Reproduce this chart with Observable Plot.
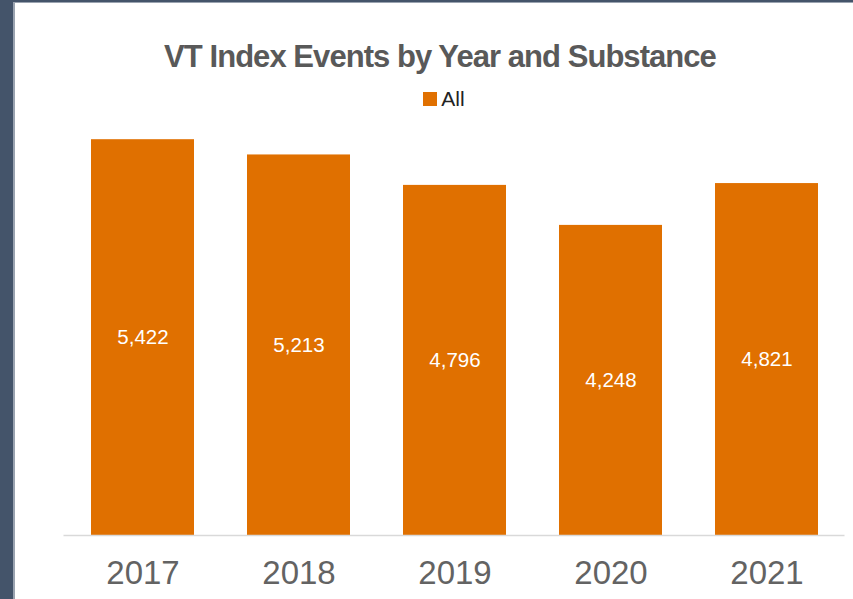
<!DOCTYPE html>
<html>
<head>
<meta charset="utf-8">
<script src="https://cdn.jsdelivr.net/npm/d3@7"></script>
<script src="https://cdn.jsdelivr.net/npm/@observablehq/plot@0.6"></script>
<style>
  html, body { margin: 0; padding: 0; }
  body { width: 853px; height: 599px; background: #44546a; position: relative; overflow: hidden; font-family: "Liberation Sans", Arial, sans-serif; }
  #strip { position: absolute; left: 13px; top: 2px; right: 0; bottom: 0; background: #9aa3b0; }
  #panel { position: absolute; left: 15px; top: 3px; right: 0; bottom: 0; background: #ffffff; }
  #title { position: absolute; left: 0; width: 880px; top: 41px; text-align: center; font-size: 31px; line-height: 31px; font-weight: bold; color: #595959; letter-spacing: -0.95px; white-space: nowrap; }
  #legend { position: absolute; left: 0; width: 888px; top: 88px; display: flex; justify-content: center; align-items: center; font-size: 21px; line-height: 21px; color: #222; }
  #legend .sw { width: 14px; height: 14px; margin-right: 4px; }
  #plot { position: absolute; left: 0; top: 0; }
</style>
</head>
<body>
<div id="strip"></div>
<div id="panel"></div>
<div id="plot"></div>
<div id="title">VT Index Events by Year and Substance</div>
<div id="legend"><div class="sw"></div><span>All</span></div>
<script>
const years = ["2017", "2018", "2019", "2020", "2021"];
const values = [5422, 5213, 4796, 4248, 4821];
const seriesName = "All";
const barColor = "#e07000";

const data = years.map((year, i) => ({year, value: values[i], series: seriesName}));
document.querySelector("#legend .sw").style.background = barColor;

const chart = Plot.plot({
  width: 853,
  height: 599,
  marginLeft: 63.5,
  marginRight: 8.5,
  marginTop: 97,
  marginBottom: 64,
  style: {background: "transparent", fontFamily: "Liberation Sans, Arial, sans-serif"},
  x: {domain: years, paddingInner: 0.34, paddingOuter: 0.17, label: null},
  y: {domain: [0, 6000], axis: null},
  marks: [
    Plot.barY(data, {x: "year", y: "value", fill: barColor}),
    Plot.ruleY([0], {stroke: "#d9d9d9", strokeWidth: 1.5}),
    Plot.text(data, {x: "year", y: d => d.value / 2, text: d => d3.format(",")(d.value), fill: "#ffffff", fontSize: 20.5}),
    Plot.axisX({tickSize: 0, tickPadding: 25, fontSize: 33, color: "#636363", label: null})
  ]
});
document.getElementById("plot").appendChild(chart);
</script>
</body>
</html>
